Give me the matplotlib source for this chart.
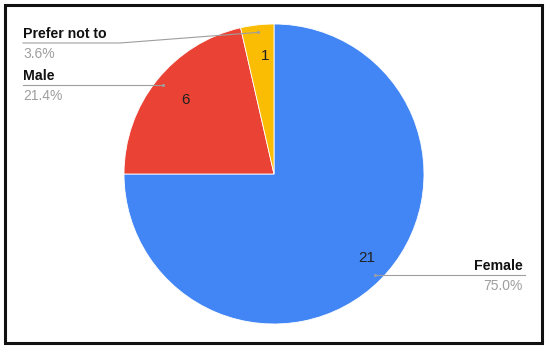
import numpy as np
import matplotlib
matplotlib.use("Agg")
import matplotlib.pyplot as plt
from matplotlib.patches import Rectangle

categories = ["Female", "Male", "Prefer not to"]
values = [21, 6, 1]
colors = ["#4285F4", "#EA4335", "#FBBC04"]

plt.rcParams['font.family'] = ['Liberation Sans', 'DejaVu Sans']

W, H = 550, 352
fig = plt.figure(figsize=(W / 100, H / 100), dpi=100)
ax = fig.add_axes([0, 0, 1, 1])

cx, cy, R = 274, H - 174, 150
wedges, texts = ax.pie(values, colors=colors, startangle=90, counterclock=False,
                       center=(cx, cy), radius=R, frame=True,
                       labels=[str(v) for v in values], labeldistance=0.79,
                       wedgeprops=dict(edgecolor='white', linewidth=0.6),
                       textprops=dict(fontsize=11, color='#222222'))
ax.set_xlim(0, W)
ax.set_ylim(0, H)
ax.set_aspect('equal')
ax.axis('off')

total = sum(values)
grey = '#9e9e9e'
for w, cat, v in zip(wedges, categories, values):
    mid = np.deg2rad((w.theta1 + w.theta2) / 2)
    dx, dy = cx + 0.95 * R * np.cos(mid), cy + 0.95 * R * np.sin(mid)
    pct = f"{100 * v / total:.1f}%"
    if cat == "Female":
        ly = dy
        ax.plot([dx, 525], [ly, ly], color=grey, lw=0.8)
        ax.text(523, ly + 5, cat, ha='right', va='baseline', fontsize=10.2,
                fontweight='bold', color='#111111')
        ax.text(523, ly - 15.5, pct, ha='right', va='baseline', fontsize=10,
                color=grey)
    else:
        if cat == "Male":
            ly = dy
            ax.plot([23, dx], [ly, ly], color=grey, lw=0.8)
        else:
            ly = H - 43
            ax.plot([23, 120, dx], [ly, ly, dy], color=grey, lw=0.8)
        ax.text(23, ly + 5, cat, ha='left', va='baseline', fontsize=10.2,
                fontweight='bold', color='#111111')
        ax.text(23, ly - 14.5, pct, ha='left', va='baseline', fontsize=10,
                color=grey)
    ax.plot([dx], [dy], 'o', color=grey, ms=2.2, mec='none')

fig.add_artist(Rectangle((5 / W, 9.5 / H), 537 / W, 337.5 / H,
                         transform=fig.transFigure, fill=False,
                         edgecolor='#111111', linewidth=2.2))

fig.savefig("out.png", dpi=100, facecolor='white')
